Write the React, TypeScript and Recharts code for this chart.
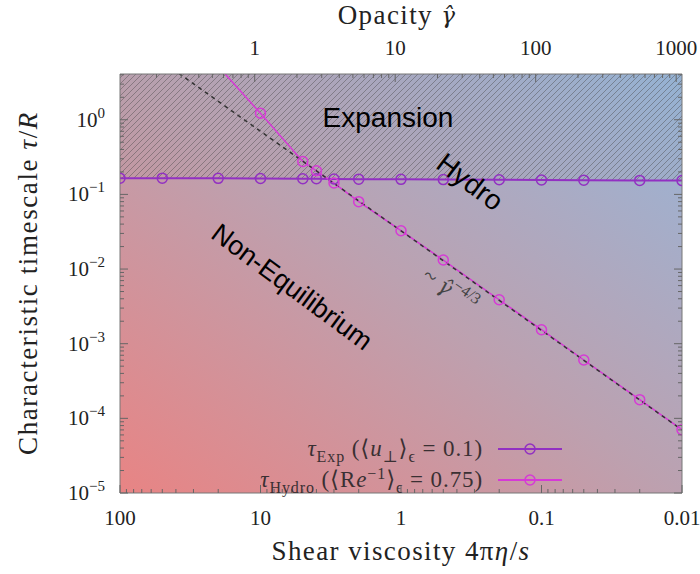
import React from 'react';
import { ComposedChart, Line, Area, XAxis, YAxis, ReferenceArea } from 'recharts';

// shear viscosity 4πη/s at the sampled points (axis is reversed: 100 -> 0.01)
const viscosity = [100, 50, 20, 10, 5, 4, 3, 2, 1, 0.5, 0.2, 0.1, 0.05, 0.02, 0.01];
// τ_Exp, nearly flat
const tauExp = [0.165, 0.165, 0.164, 0.163, 0.162, 0.162, 0.161, 0.160, 0.159, 0.158, 0.157, 0.156, 0.155, 0.154, 0.153];
// τ_Hydro (the 20 point sits above the frame and is clipped)
const tauHydro = [null, null, 5.2, 1.22, 0.276, 0.207, 0.142, 0.080, 0.0326, 0.0132, 0.00388, 0.00154, 6.05e-4, 1.78e-4, 7.06e-5];
// dashed ~γ^-4/3 guide, only its two end values
const guide = [15.1, null, null, null, null, null, null, null, null, null, null, null, null, null, 7.0e-5];

const xMajorTicks = [100, 10, 1, 0.1, 0.01];
const xTickLabels = ['100', '10', '1', '0.1', '0.01'];
const topMajorTicks = [1, 10, 100, 1000];
const topTickLabels = ['1', '10', '100', '1000'];
const yMajorTicks = [1e-5, 1e-4, 1e-3, 1e-2, 1e-1, 1];
const yTickLabels = ['−5', '−4', '−3', '−2', '−1', '0'];

const Y_MIN = 1e-5;
const Y_MAX = 4.1;
// opacity γ̂ ≈ 11 / (4πη/s)
const GAMMA_PER_VISC = 11;
const GAMMA_MIN = GAMMA_PER_VISC / 100;
const GAMMA_MAX = GAMMA_PER_VISC / 0.01;

const SERIF = '"Liberation Serif", "DejaVu Serif", serif';
const HAT_FONT = '"DejaVu Serif", serif';
const SANS = '"Liberation Sans", Arial, sans-serif';
const EXP_COLOR = '#9230c2';
const HYDRO_COLOR = '#d63ad6';
const TICK_COLOR = '#666';

const rows = viscosity.map((v, i) => ({
  visc: v,
  gamma: GAMMA_PER_VISC / v,
  exp: tauExp[i],
  hydro: tauHydro[i],
  guide: guide[i],
}));

const minorTicks = (lo: number, hi: number) => {
  const out: number[] = [];
  for (let d = lo; d < hi; d *= 10) {
    for (let k = 2; k <= 9; k++) out.push(+(d * k).toPrecision(6));
  }
  return out;
};

const xTicks = [...xMajorTicks, ...minorTicks(0.01, 100)];
const topTicks = [...topMajorTicks, ...minorTicks(0.1, 1000).filter((t) => t >= GAMMA_MIN)];
const yTicks = [...yMajorTicks, ...minorTicks(1e-5, 1).concat([2, 3, 4])].filter((t) => t <= Y_MAX);

const labelOf = (ticks: number[], labels: string[], v: number) => {
  const i = ticks.findIndex((t) => Math.abs(Math.log10(t) - Math.log10(v)) < 1e-6);
  return i >= 0 ? labels[i] : null;
};

const BottomTick = (props: any) => {
  const { x, y, payload } = props;
  const label = labelOf(xMajorTicks, xTickLabels, payload.value);
  return (
    <g>
      <line x1={x} x2={x} y1={y} y2={y - (label ? 8 : 4)} stroke={TICK_COLOR} />
      {label && (
        <text x={x} y={y + 25} textAnchor="middle" dominantBaseline="central" fontFamily={SERIF} fontSize={21} fill="#222">
          {label}
        </text>
      )}
    </g>
  );
};

const TopTick = (props: any) => {
  const { x, y, payload } = props;
  const label = labelOf(topMajorTicks, topTickLabels, payload.value);
  return (
    <g>
      <line x1={x} x2={x} y1={y} y2={y + (label ? 8 : 4)} stroke={TICK_COLOR} />
      {label && (
        <text x={x} y={y - 26} textAnchor="middle" dominantBaseline="central" fontFamily={SERIF} fontSize={21} fill="#222">
          {label}
        </text>
      )}
    </g>
  );
};

const LeftTick = (props: any) => {
  const { x, y, payload } = props;
  const label = labelOf(yMajorTicks, yTickLabels, payload.value);
  return (
    <g>
      <line x1={x} x2={x + (label ? 8 : 4)} y1={y} y2={y} stroke={TICK_COLOR} />
      {label && (
        <text x={x - 15} y={y + 7} textAnchor="end" fontFamily={SERIF} fontSize={21} fill="#222">
          10
          <tspan dy={-9} fontSize={15}>
            {label}
          </tspan>
        </text>
      )}
    </g>
  );
};

const RightTick = (props: any) => {
  const { x, y, payload } = props;
  const major = labelOf(yMajorTicks, yTickLabels, payload.value) !== null;
  return <line x1={x} x2={x - (major ? 8 : 4)} y1={y} y2={y} stroke={TICK_COLOR} />;
};

const LegendRow = ({ color, children }: { color: string; children: React.ReactNode }) => (
  <div style={{ display: 'flex', justifyContent: 'flex-end', alignItems: 'center', height: 31 }}>
    <span style={{ whiteSpace: 'nowrap', letterSpacing: 0.9 }}>{children}</span>
    <svg width={64} height={16} style={{ marginLeft: 15 }}>
      <line x1={0} x2={64} y1={8} y2={8} stroke={color} strokeWidth={2} />
      <circle cx={32} cy={8} r={5} fill="none" stroke={color} strokeWidth={1.5} />
    </svg>
  </div>
);

const sub: React.CSSProperties = { fontSize: 16, verticalAlign: '-0.35em', lineHeight: 0 };
const sup: React.CSSProperties = { fontSize: 16, verticalAlign: '0.5em', lineHeight: 0 };

export default function App() {
  return (
    <div style={{ position: 'absolute', left: 0, top: 0, width: 700, height: 574, background: '#fff' }}>
      <ComposedChart width={700} height={574} data={rows} margin={{ top: 0, right: 0, bottom: 0, left: 0 }}>
        <defs>
          <linearGradient id="bg" x1="0" y1="1" x2="1" y2="0">
            <stop offset="0%" stopColor="#e88484" />
            <stop offset="50%" stopColor="#bca1b0" />
            <stop offset="100%" stopColor="#97b5d8" />
          </linearGradient>
          <pattern id="hatch" patternUnits="userSpaceOnUse" width={6} height={6}>
            <rect width={6} height={6} fill="rgba(120,120,120,0.05)" />
            <path d="M0,6 L6,0 M-1.5,1.5 L1.5,-1.5 M4.5,7.5 L7.5,4.5" stroke="#444" strokeOpacity={0.42} strokeWidth={1} />
          </pattern>
        </defs>
        <XAxis
          dataKey="visc"
          type="number"
          scale="log"
          domain={[0.01, 100]}
          reversed
          allowDataOverflow
          ticks={xTicks}
          interval={0}
          height={81}
          tickSize={0}
          tickMargin={0}
          tick={<BottomTick />}
          axisLine={{ stroke: '#777' }}
        />
        <XAxis
          xAxisId="top"
          dataKey="gamma"
          orientation="top"
          type="number"
          scale="log"
          domain={[GAMMA_MIN, GAMMA_MAX]}
          allowDataOverflow
          ticks={topTicks}
          interval={0}
          height={74}
          tickSize={0}
          tickMargin={0}
          tick={<TopTick />}
          axisLine={{ stroke: '#777' }}
        />
        <YAxis
          type="number"
          scale="log"
          domain={[Y_MIN, Y_MAX]}
          allowDataOverflow
          ticks={yTicks}
          interval={0}
          width={120}
          tickSize={0}
          tickMargin={0}
          tick={<LeftTick />}
          axisLine={{ stroke: '#777' }}
        />
        <YAxis
          yAxisId="right"
          orientation="right"
          type="number"
          scale="log"
          domain={[Y_MIN, Y_MAX]}
          allowDataOverflow
          ticks={yTicks}
          interval={0}
          width={18}
          tickSize={0}
          tickMargin={0}
          tick={<RightTick />}
          axisLine={{ stroke: '#777' }}
        />
        <ReferenceArea x1={100} x2={0.01} y1={Y_MIN} y2={Y_MAX} fill="url(#bg)" fillOpacity={1} stroke="none" />
        <Area
          type="linear"
          dataKey={(d: any) => [d.exp, Y_MAX]}
          fill="url(#hatch)"
          fillOpacity={1}
          stroke="none"
          dot={false}
          activeDot={false}
          isAnimationActive={false}
        />
        {/* invisible series that ties the opacity axis to the data */}
        <Line
          xAxisId="top"
          yAxisId="right"
          type="linear"
          dataKey="exp"
          stroke="none"
          dot={false}
          activeDot={false}
          isAnimationActive={false}
        />
        <Line
          type="linear"
          dataKey="exp"
          stroke={EXP_COLOR}
          strokeWidth={2}
          dot={{ r: 5, fill: 'none', stroke: EXP_COLOR, strokeWidth: 1.5 }}
          activeDot={false}
          isAnimationActive={false}
        />
        <Line
          type="linear"
          dataKey="hydro"
          stroke={HYDRO_COLOR}
          strokeWidth={1.5}
          dot={{ r: 5, fill: 'none', stroke: HYDRO_COLOR, strokeWidth: 1.5 }}
          activeDot={false}
          connectNulls={false}
          isAnimationActive={false}
        />
        <Line
          type="linear"
          dataKey="guide"
          stroke="#333"
          strokeWidth={1.5}
          strokeDasharray="4 4"
          dot={false}
          activeDot={false}
          connectNulls
          isAnimationActive={false}
        />
      </ComposedChart>

      <svg width={700} height={574} style={{ position: 'absolute', left: 0, top: 0, pointerEvents: 'none' }}>
        <text x={397} y={15} textAnchor="middle" dominantBaseline="central" fontFamily={SERIF} fontSize={27} letterSpacing={1.4} fill="#222">
          Opacity <tspan fontFamily={HAT_FONT} fontStyle="italic" fontSize={23}>γ̂</tspan>
        </text>
        <text x={401} y={551} textAnchor="middle" dominantBaseline="central" fontFamily={SERIF} fontSize={27} letterSpacing={1.4} fill="#222">
          Shear viscosity 4π<tspan fontStyle="italic">η</tspan>/<tspan fontStyle="italic">s</tspan>
        </text>
        <text transform="translate(28,283) rotate(-90)" textAnchor="middle" dominantBaseline="central" fontFamily={SERIF} fontSize={27} letterSpacing={1.6} fill="#222">
          Characteristic timescale <tspan fontStyle="italic">τ</tspan>/<tspan fontStyle="italic">R</tspan>
        </text>
        <text x={388} y={117} textAnchor="middle" dominantBaseline="central" fontFamily={SANS} fontSize={28} fill="#000">
          Expansion
        </text>
        <text transform="translate(470,182) rotate(37)" textAnchor="middle" dominantBaseline="central" fontFamily={SANS} fontSize={28} fill="#000">
          Hydro
        </text>
        <text transform="translate(292,287) rotate(36.5)" textAnchor="middle" dominantBaseline="central" fontFamily={SANS} fontSize={27} fill="#000">
          Non-Equilibrium
        </text>
        <text transform="translate(450,290) rotate(35)" textAnchor="middle" dominantBaseline="central" fontFamily={SERIF} fontSize={23} fill="#444">
          ~ <tspan fontFamily={HAT_FONT} fontStyle="italic" fontSize={21}>γ̂</tspan>
          <tspan dy={-9} fontSize={16}>−4/3</tspan>
        </text>
      </svg>

      <div style={{ position: 'absolute', left: 0, top: 433, width: 562, fontFamily: SERIF, fontSize: 23, color: '#3a3033' }}>
        <LegendRow color={EXP_COLOR}>
          <i>τ</i>
          <span style={sub}>Exp</span> (⟨<i>u</i>
          <span style={sub}>⊥</span>⟩<span style={sub}>ϵ</span> = 0.1)
        </LegendRow>
        <LegendRow color={HYDRO_COLOR}>
          <i>τ</i>
          <span style={sub}>Hydro</span> (⟨R<i>e</i>
          <span style={sup}>−1</span>⟩<span style={sub}>ϵ</span> = 0.75)
        </LegendRow>
      </div>
    </div>
  );
}
